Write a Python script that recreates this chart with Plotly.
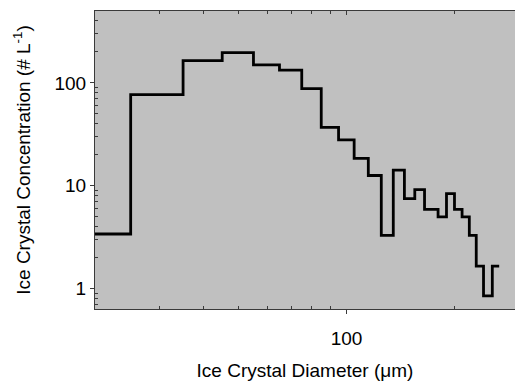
import math
import plotly.graph_objects as go

# Bin edges (ice crystal diameter, µm) and concentration per bin (# per L)
diameter_edges = [19, 25, 35, 45, 55, 65, 75, 85, 95, 105, 115, 125, 135, 145,
                  155, 165, 180, 190, 200, 210, 220, 230, 241, 255, 266.5]
concentration = [3.4, 77, 165, 197, 150, 133, 88, 37, 28, 18.5, 12.6, 3.3, 14.2,
                 7.5, 9.2, 5.9, 5.0, 8.4, 5.9, 5.0, 3.3, 1.66, 0.85, 1.66]

x_major = [100]
x_major_text = ["100"]
x_minor = [30, 40, 50, 60, 70, 80, 90, 200]
y_major = [1, 10, 100]
y_major_text = ["1", "10", "100"]
y_minor = [0.7, 0.8, 0.9, 2, 3, 4, 5, 6, 7, 8, 9, 20, 30, 40, 50, 60, 70, 80, 90,
           200, 300, 400]

x_range = [math.log10(19.88), math.log10(295)]
y_range = [math.log10(0.635), math.log10(500)]

y_step = concentration + [concentration[-1]]

FONT = "Liberation Sans, Arial, sans-serif"
AXC = "#3a3a3a"
FS = 19

fig = go.Figure()
fig.add_trace(go.Scatter(
    x=diameter_edges, y=y_step, mode="lines",
    line=dict(shape="hv", color="black", width=2.8),
    hoverinfo="skip", showlegend=False))
# invisible helper trace for the top (mirror) axis
fig.add_trace(go.Scatter(
    x=diameter_edges, y=y_step, mode="lines", xaxis="x2",
    line=dict(width=0, color="rgba(0,0,0,0)"),
    hoverinfo="skip", showlegend=False))

fig.update_layout(
    width=515, height=381,
    margin=dict(l=95, r=0, t=11, b=72),
    paper_bgcolor="white", plot_bgcolor="#c0c0c0",
    font=dict(family=FONT, size=FS, color="black"),
    showlegend=False,
    xaxis=dict(
        type="log", range=x_range,
        tickmode="array", tickvals=x_major, ticktext=x_major_text,
        ticks="outside", ticklen=4, tickwidth=1, tickcolor=AXC,
        ticklabelstandoff=8,
        minor=dict(tickmode="array", tickvals=x_minor, ticks="inside",
                   ticklen=3, tickwidth=1, tickcolor=AXC, showgrid=False),
        showline=True, linecolor=AXC, linewidth=1,
        showgrid=False, zeroline=False,
        title=dict(text="Ice Crystal Diameter (\u03bcm)", standoff=18,
                   font=dict(size=FS)),
    ),
    xaxis2=dict(
        type="log", range=x_range, overlaying="x", side="top", anchor="y",
        tickmode="array", tickvals=x_major, showticklabels=False,
        ticks="inside", ticklen=4, tickwidth=1, tickcolor=AXC,
        minor=dict(tickmode="array", tickvals=x_minor, ticks="inside",
                   ticklen=3, tickwidth=1, tickcolor=AXC, showgrid=False),
        showline=True, linecolor=AXC, linewidth=1,
        showgrid=False, zeroline=False,
    ),
    yaxis=dict(
        type="log", range=y_range,
        tickmode="array", tickvals=y_major, ticktext=y_major_text,
        ticks="outside", ticklen=4, tickwidth=1, tickcolor=AXC,
        minor=dict(tickmode="array", tickvals=y_minor, ticks="inside",
                   ticklen=3, tickwidth=1, tickcolor=AXC, showgrid=False),
        showline=True, linecolor=AXC, linewidth=1,
        showgrid=False, zeroline=False,
        title=dict(text="Ice Crystal Concentration (# L<sup>-1</sup>)",
                   standoff=18, font=dict(size=FS)),
    ),
)

fig.write_html(
    "out.html",
    config={"displayModeBar": False, "staticPlot": True},
    post_script="document.body.style.margin='0';document.body.style.overflow='hidden';",
)
